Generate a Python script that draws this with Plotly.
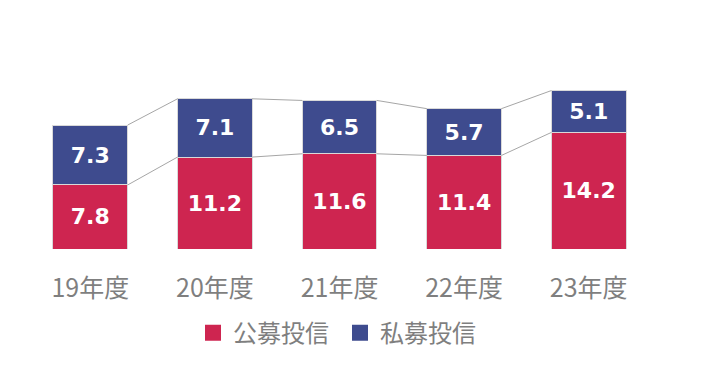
import plotly.graph_objects as go

categories = ["19年度", "20年度", "21年度", "22年度", "23年度"]
public_vals = [7.8, 11.2, 11.6, 11.4, 14.2]
private_vals = [7.3, 7.1, 6.5, 5.7, 5.1]
series_names = ["公募投信", "私募投信"]

RED = "#CE2550"
BLUE = "#3E4B8E"
BAR_W = 0.6

x = list(range(len(categories)))
fig = go.Figure()

# connector lines (drawn first, behind bars)
tops_pub = public_vals
tops_all = [a + b for a, b in zip(public_vals, private_vals)]
for tops in (tops_pub, tops_all):
    for i in range(len(x) - 1):
        fig.add_trace(go.Scatter(
            x=[x[i] + BAR_W / 2, x[i + 1] - BAR_W / 2],
            y=[tops[i], tops[i + 1]],
            mode="lines", line=dict(color="#A6A6A6", width=1),
            showlegend=False, hoverinfo="skip"))

for vals, name, col in ((public_vals, series_names[0], RED),
                        (private_vals, series_names[1], BLUE)):
    fig.add_trace(go.Bar(
        x=x, y=vals, name=name, width=BAR_W, showlegend=False,
        marker=dict(color=col, line=dict(color="#D9D9D9", width=1)),
        text=[f"{v:.1f}" for v in vals], textposition="inside",
        insidetextanchor="middle",
        textfont=dict(family="DejaVu Sans", size=22, color="white", weight="bold"),
    ))
    # legend entry with a square swatch
    fig.add_trace(go.Scatter(
        x=[None], y=[None], name=name, mode="markers",
        marker=dict(symbol="square", size=17, color=col),
    ))

fig.update_layout(
    width=701, height=365,
    barmode="stack",
    margin=dict(l=28, r=50, t=20, b=116, autoexpand=False),
    plot_bgcolor="white", paper_bgcolor="white",
    font=dict(family="Noto Sans CJK JP", color="#7F7F7F", size=24),
    xaxis=dict(
        range=[-0.5, 4.5], tickvals=x, ticktext=categories,
        showgrid=False, zeroline=False, showline=False, automargin=False,
        ticks="outside", ticklen=17, tickcolor="rgba(0,0,0,0)",
        tickfont=dict(size=25, color="#7F7F7F"),
    ),
    yaxis=dict(range=[0, 27.9], visible=False, automargin=False),
    legend=dict(orientation="h", x=(193 - 28) / 623, xanchor="left",
                y=-0.367, yanchor="middle",
                font=dict(size=24, color="#7F7F7F"),
                entrywidth=102, traceorder="normal"),
    showlegend=True,
)

fig.write_html("out.html", config={"displayModeBar": False},
               post_script="document.body.style.margin='0';")
